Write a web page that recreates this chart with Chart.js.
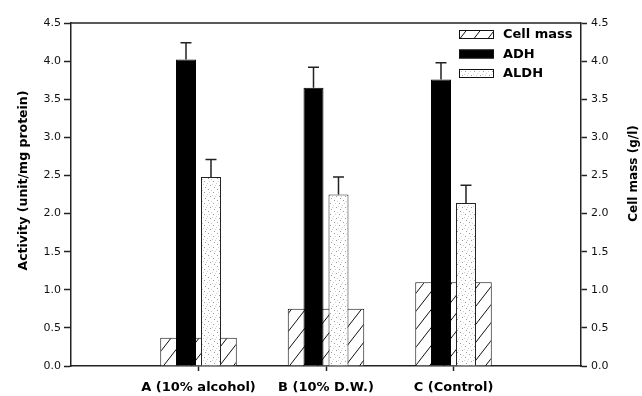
<!DOCTYPE html>
<html>
<head>
<meta charset="utf-8">
<script src="https://cdn.jsdelivr.net/npm/chart.js@4.4.0/dist/chart.umd.min.js"></script>
<style>
  html, body { margin: 0; padding: 0; background: #fff; }
  #wrap { width: 642px; height: 396px; }
</style>
</head>
<body>
<div id="wrap"><canvas id="chart" width="642" height="396"></canvas></div>
<script>
// values
var groups = ["A (10% alcohol)", "B (10% D.W.)", "C (Control)"];
var cellMass = [0.37, 0.75, 1.10];
var adh = [4.02, 3.65, 3.76];
var adhErr = [0.22, 0.27, 0.22];
var aldh = [2.48, 2.25, 2.14];
var aldhErr = [0.23, 0.23, 0.23];
var leftTitle = "Activity (unit/mg protein)";
var rightTitle = "Cell mass (g/l)";

// the x axis runs one empty slot either side of the three groups
function pad(arr) {
  return [null].concat(arr, [null]);
}
var labels = pad(groups).map(function (g) { return g || ""; });

function hatch() {
  var c = document.createElement("canvas");
  c.width = 14;
  c.height = 18;
  var g = c.getContext("2d");
  g.fillStyle = "#fff";
  g.fillRect(0, 0, 14, 18);
  g.strokeStyle = "#111";
  g.lineWidth = 1;
  [-14, 0, 14].forEach(function (dx) {
    g.beginPath();
    g.moveTo(dx, 18);
    g.lineTo(dx + 14, 0);
    g.stroke();
  });
  return g.createPattern(c, "repeat");
}

function speckle() {
  var c = document.createElement("canvas");
  c.width = 9;
  c.height = 11;
  var g = c.getContext("2d");
  g.fillStyle = "#fff";
  g.fillRect(0, 0, 9, 11);
  g.fillStyle = "#9a9a9a";
  [[1, 2], [6, 5], [3, 9], [7, 0]].forEach(function (p) { g.fillRect(p[0], p[1], 1, 1); });
  g.fillStyle = "#cfcfcf";
  [[4, 3], [0, 7], [5, 8], [8, 9], [2, 5]].forEach(function (p) { g.fillRect(p[0], p[1], 1, 1); });
  return g.createPattern(c, "repeat");
}

var frameAndText = {
  id: "frameAndText",
  afterDraw: function (chart) {
    var ctx = chart.ctx;
    var a = chart.chartArea;
    ctx.save();
    // top border of the frame
    ctx.strokeStyle = "#222";
    ctx.lineWidth = 1.5;
    ctx.beginPath();
    ctx.moveTo(a.left, a.top);
    ctx.lineTo(a.right, a.top);
    ctx.stroke();

    // axis titles, both reading bottom to top
    var mid = (a.top + a.bottom) / 2;
    ctx.fillStyle = "#000";
    ctx.textAlign = "center";
    ctx.textBaseline = "middle";
    ctx.save();
    ctx.font = "bold 12.5px 'DejaVu Sans'";
    ctx.translate(24, mid - 14);
    ctx.rotate(-Math.PI / 2);
    ctx.fillText(leftTitle, 0, 0);
    ctx.restore();
    ctx.save();
    ctx.font = "bold 12px 'DejaVu Sans'";
    ctx.translate(634, mid - 21);
    ctx.rotate(-Math.PI / 2);
    ctx.fillText(rightTitle, 0, 0);
    ctx.restore();

    // legend, top right inside the frame
    var x0 = a.right - 122;
    var y0 = a.top + 7;
    ctx.font = "bold 13px 'DejaVu Sans'";
    ctx.textAlign = "left";
    chart.data.datasets.forEach(function (ds, i) {
      var y = y0 + i * 19.5;
      ctx.fillStyle = ds.backgroundColor;
      ctx.fillRect(x0, y, 35, 9);
      ctx.strokeStyle = "#111";
      ctx.lineWidth = 1;
      ctx.strokeRect(x0 + 0.5, y + 0.5, 34, 8);
      ctx.fillStyle = "#000";
      ctx.fillText(ds.label, x0 + 44, y + 5);
    });
    ctx.restore();
  }
};

var errorBars = {
  id: "errorBars",
  afterDatasetsDraw: function (chart) {
    var ctx = chart.ctx;
    ctx.save();
    ctx.strokeStyle = "#222";
    ctx.lineWidth = 1.5;
    chart.data.datasets.forEach(function (ds, i) {
      if (!ds.errors) return;
      var meta = chart.getDatasetMeta(i);
      var ys = chart.scales[meta.yAxisID];
      meta.data.forEach(function (bar, j) {
        var v = ds.data[j];
        var e = ds.errors[j];
        if (v == null || e == null) return;
        var top = ys.getPixelForValue(v + e);
        ctx.beginPath();
        ctx.moveTo(bar.x, bar.y);
        ctx.lineTo(bar.x, top);
        ctx.moveTo(bar.x - 5.5, top);
        ctx.lineTo(bar.x + 5.5, top);
        ctx.stroke();
      });
    });
    ctx.restore();
  }
};

Chart.defaults.font.family = "'DejaVu Sans', sans-serif";
Chart.defaults.color = "#111";

var ctx = document.getElementById("chart");
var myChart = new Chart(ctx, {
  type: "bar",
  data: {
    labels: labels,
    datasets: [
      {
        label: "Cell mass",
        data: pad(cellMass),
        yAxisID: "y1",
        backgroundColor: hatch(),
        borderColor: "#111",
        borderWidth: 1,
        grouped: false,
        categoryPercentage: 1,
        barPercentage: 0.6,
        order: 1,
      },
      {
        label: "ADH",
        data: pad(adh),
        errors: pad(adhErr),
        yAxisID: "y",
        backgroundColor: "#000",
        borderColor: "#000",
        borderWidth: 1,
        categoryPercentage: 0.392,
        barPercentage: 0.8,
        order: 0,
      },
      {
        label: "ALDH",
        data: pad(aldh),
        errors: pad(aldhErr),
        yAxisID: "y",
        backgroundColor: speckle(),
        borderColor: "#222",
        borderWidth: 1,
        categoryPercentage: 0.392,
        barPercentage: 0.8,
        order: 0,
      },
    ],
  },
  options: {
    responsive: false,
    maintainAspectRatio: false,
    animation: false,
    layout: {
      padding: { top: 23, left: 0, right: 0, bottom: 0 },
    },
    plugins: {
      legend: { display: false },
      tooltip: { enabled: false },
    },
    scales: {
      x: {
        type: "category",
        offset: false,
        grid: {
          offset: false,
          drawOnChartArea: false,
          tickLength: 5,
          tickWidth: 1.5,
          tickColor: function (c) {
            return labels[c.index] ? "#222" : "transparent";
          },
        },
        border: { color: "#222", width: 1.5 },
        ticks: {
          autoSkip: false,
          maxRotation: 0,
          padding: 9,
          color: "#000",
          font: { size: 13, weight: "bold" },
        },
        afterFit: function (scale) {
          scale.height = 30;
        },
      },
      y: {
        position: "left",
        min: 0,
        max: 4.5,
        ticks: {
          stepSize: 0.5,
          padding: 3,
          font: { size: 11 },
          callback: function (v) { return v.toFixed(1); },
        },
        grid: { drawOnChartArea: false, tickLength: 7, tickColor: "#222", tickWidth: 1.5 },
        border: { color: "#222", width: 1.5 },
        afterFit: function (scale) {
          scale.width = 71;
        },
      },
      y1: {
        position: "right",
        min: 0,
        max: 4.5,
        ticks: {
          stepSize: 0.5,
          padding: 4,
          font: { size: 11 },
          callback: function (v) { return v.toFixed(1); },
        },
        grid: { drawOnChartArea: false, tickLength: 6, tickColor: "#222", tickWidth: 1.5 },
        border: { color: "#222", width: 1.5 },
        afterFit: function (scale) {
          scale.width = 61;
        },
      },
    },
  },
  plugins: [errorBars, frameAndText],
});
</script>
</body>
</html>
